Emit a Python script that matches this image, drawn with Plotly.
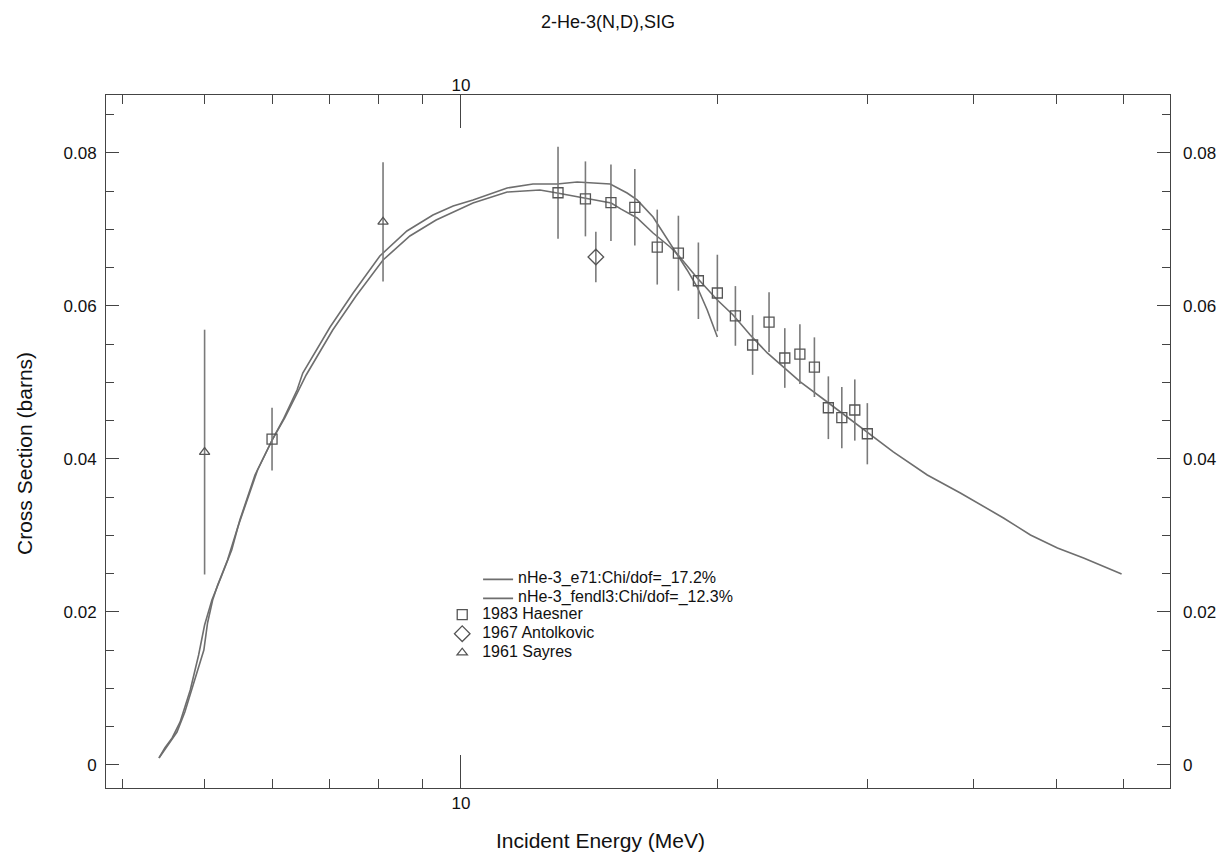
import math
import plotly.graph_objects as go

# ---- data (energies in MeV, cross sections in barns) ----
e71_x = [4.42, 4.49, 4.58, 4.68, 4.81, 4.92, 5.00, 5.10, 5.24, 5.38, 5.50, 5.73, 6.01, 6.18,
         6.42, 6.52, 7.02, 7.47, 8.03, 8.64, 9.27, 9.79, 10.33, 11.33, 12.15, 12.97, 13.69,
         14.18, 14.97, 15.67, 16.10, 16.81, 17.60, 18.43, 18.94, 19.46, 20.0]
e71_y = [0.00092, 0.00222, 0.00353, 0.00562, 0.00980, 0.01438, 0.01830, 0.02157, 0.02484,
         0.02810, 0.03203, 0.03791, 0.04261, 0.04510, 0.04902, 0.05124, 0.05725, 0.06170,
         0.06654, 0.06980, 0.07190, 0.07307, 0.07386, 0.07543, 0.07595, 0.07595, 0.07621,
         0.07608, 0.07595, 0.07477, 0.07386, 0.07163, 0.06824, 0.06471, 0.06248, 0.05948,
         0.05595]

fendl_x = [4.42, 4.53, 4.64, 4.74, 4.87, 4.99, 5.04, 5.11, 5.18, 5.32, 5.47, 5.58, 5.77, 6.01,
           6.21, 6.45, 6.58, 7.07, 7.53, 8.10, 8.71, 9.35, 9.84, 10.33, 11.33, 12.38, 12.97,
           13.99, 15.01, 15.4, 16.1, 16.81, 17.60, 17.99, 18.94, 20.0, 20.87, 21.86, 22.89,
           23.90, 25.03, 26.92, 28.88, 32.18, 35.28, 38.58, 43.35, 46.63, 50.16, 53.83, 59.66]
fendl_y = [0.00092, 0.00261, 0.00431, 0.00693, 0.01111, 0.01503, 0.01856, 0.02157, 0.02353,
           0.02680, 0.03111, 0.03399, 0.03856, 0.04261, 0.04536, 0.04902, 0.05098, 0.05686,
           0.06131, 0.06601, 0.06915, 0.07124, 0.07242, 0.07346, 0.07490, 0.07516, 0.07477,
           0.07412, 0.07346, 0.07270, 0.07150, 0.06954, 0.06771, 0.06667, 0.06366, 0.06078,
           0.05882, 0.05621, 0.05386, 0.05203, 0.05007, 0.04745, 0.04484, 0.04092, 0.03791,
           0.03556, 0.03229, 0.03007, 0.02837, 0.02706, 0.02497]

haesner_x = [6.0, 13, 14, 15, 16, 17, 18, 19, 20, 21, 22, 23, 24, 25, 26, 27, 28, 29, 30]
haesner_y = [0.0426, 0.0748, 0.0740, 0.0735, 0.0729, 0.0677, 0.0669, 0.0633, 0.0617, 0.0587,
             0.0549, 0.0579, 0.0532, 0.0537, 0.0520, 0.0467, 0.0454, 0.0464, 0.0433]
haesner_err = [0.0041, 0.0060, 0.0049, 0.0050, 0.0050, 0.0049, 0.0049, 0.0050, 0.0050, 0.0039,
               0.0039, 0.0039, 0.0039, 0.0039, 0.0039, 0.0041, 0.0040, 0.0040, 0.0040]

antolkovic_x = [14.4]
antolkovic_y = [0.0664]
antolkovic_err = [0.0033]

sayres_x = [5.0, 8.1]
sayres_y = [0.0409, 0.0710]
sayres_err = [0.0160, 0.0078]

x_major = [10]
x_minor = [4, 5, 6, 7, 8, 9, 20, 30, 40, 50, 60]
x_range = [3.83, 68.0]
y_ticks = [0, 0.02, 0.04, 0.06, 0.08]
y_ticklabels = ["0", "0.02", "0.04", "0.06", "0.08"]
y_range = [-0.00301, 0.08758]

FONT = "Liberation Sans, Arial, Helvetica, sans-serif"
GREY = "#6e6e6e"
AX = "#444444"
LEGEND_TEXT = '<span style="font-size:16px">{}</span>'

fig = go.Figure()

fig.add_trace(go.Scatter(x=e71_x, y=e71_y, mode="lines",
                         name=LEGEND_TEXT.format("nHe-3_e71:Chi/dof=_17.2%"),
                         line=dict(color=GREY, width=1.6), legend="legend"))
fig.add_trace(go.Scatter(x=fendl_x, y=fendl_y, mode="lines",
                         name=LEGEND_TEXT.format("nHe-3_fendl3:Chi/dof=_12.3%"),
                         line=dict(color=GREY, width=1.6), legend="legend"))

err_style = dict(type="data", thickness=1.6, width=0, color="#7a7a7a")

fig.add_trace(go.Scatter(x=haesner_x, y=haesner_y, mode="markers",
                         name=LEGEND_TEXT.format("1983 Haesner"),
                         marker=dict(symbol="square-open", size=10, color="#555555",
                                     line=dict(width=1.3)),
                         error_y=dict(array=haesner_err, **err_style), legend="legend2"))
fig.add_trace(go.Scatter(x=antolkovic_x, y=antolkovic_y, mode="markers",
                         name=LEGEND_TEXT.format("1967 Antolkovic"),
                         marker=dict(symbol="diamond-open", size=12, color="#555555",
                                     line=dict(width=1.3)),
                         error_y=dict(array=antolkovic_err, **err_style), legend="legend2"))
fig.add_trace(go.Scatter(x=sayres_x, y=sayres_y, mode="markers",
                         name=LEGEND_TEXT.format("1961 Sayres"),
                         marker=dict(symbol="triangle-up-open", size=9, color="#555555",
                                     line=dict(width=1.3)),
                         error_y=dict(array=sayres_err, **err_style), legend="legend2"))

# empty trace that activates the mirrored (top / right) labelled axes
fig.add_trace(go.Scatter(x=[], y=[], xaxis="x2", yaxis="y2", showlegend=False))

xr = [math.log10(x_range[0]), math.log10(x_range[1])]

common_x = dict(type="log", range=xr, tickmode="array", tickvals=x_major,
                ticktext=[str(v) for v in x_major], ticks="inside", ticklen=33,
                tickwidth=1, tickcolor=AX, showgrid=False, zeroline=False, automargin=False,
                tickfont=dict(family=FONT, size=17, color="#111"),
                minor=dict(tickmode="array", tickvals=x_minor, ticks="inside",
                           ticklen=9, tickwidth=1, tickcolor=AX, showgrid=False))
common_y = dict(range=y_range, tickmode="array", tickvals=y_ticks,
                ticktext=y_ticklabels, ticks="inside", automargin=False,
                ticklen=13, tickwidth=1, tickcolor=AX, showgrid=False, zeroline=False,
                tickfont=dict(family=FONT, size=17, color="#111"),
                minor=dict(dtick=0.005, tick0=0, ticks="inside", ticklen=8, tickwidth=1,
                           tickcolor=AX, showgrid=False))

ML, MR, MT, MB = 106, 53, 95, 70
W, H = 1223, 858
pw, ph = W - ML - MR, H - MT - MB

fig.update_layout(
    width=W, height=H,
    paper_bgcolor="white", plot_bgcolor="white",
    margin=dict(l=ML, r=MR, t=MT, b=MB, autoexpand=False),
    xaxis=dict(**common_x, showline=True, linecolor=AX, linewidth=1, mirror=True),
    yaxis=dict(**common_y, showline=True, linecolor=AX, linewidth=1, mirror=True,
               ticklabelstandoff=5),
    xaxis2=dict(**common_x, overlaying="x", side="top", anchor="y2", showline=False),
    yaxis2=dict(**common_y, overlaying="y", side="right", anchor="x2", showline=False,
                ticklabelstandoff=12),
    title=dict(text="2-He-3(N,D),SIG", x=608 / W, xref="container", xanchor="center",
               y=1 - 22 / H, yref="container", yanchor="middle",
               font=dict(family=FONT, size=18, color="#111")),
    showlegend=True,
    legend=dict(x=0.3497, y=0.322, xanchor="left", yanchor="top", bgcolor="rgba(0,0,0,0)",
                font=dict(family=FONT, size=10.5, color="#111"), tracegroupgap=0,
                itemwidth=30),
    legend2=dict(x=0.316, y=0.271, xanchor="left", yanchor="top", bgcolor="rgba(0,0,0,0)",
                 font=dict(family=FONT, size=10.5, color="#111"), tracegroupgap=0,
                 itemwidth=30),
    annotations=[
        dict(text="Incident Energy (MeV)", x=(600 - ML) / pw, y=(H - MB - 840) / ph,
             xref="paper", yref="paper", showarrow=False, yanchor="middle",
             font=dict(family=FONT, size=21, color="#111")),
        dict(text="Cross Section (barns)", x=(24 - ML) / pw, y=(H - MB - 454) / ph,
             xref="paper", yref="paper", showarrow=False, textangle=-90,
             xanchor="center", yanchor="middle",
             font=dict(family=FONT, size=21, color="#111")),
    ],
)

fig.write_html("out.html")
